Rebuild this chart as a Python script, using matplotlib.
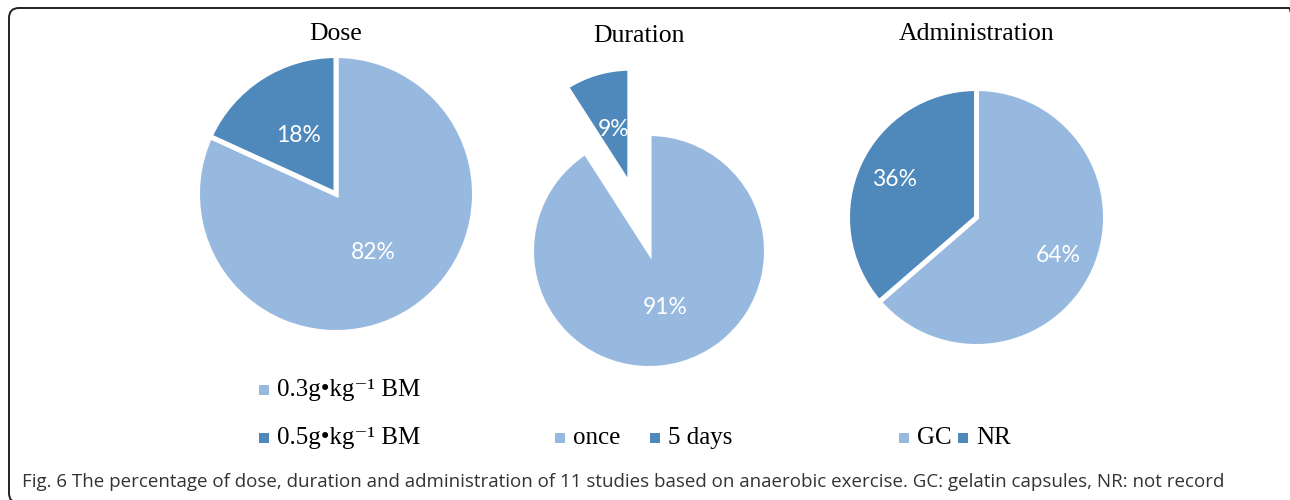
import matplotlib
matplotlib.use("Agg")
import matplotlib.pyplot as plt
from matplotlib.patches import FancyBboxPatch, Rectangle

# Study counts (11 studies based on anaerobic exercise)
dose_labels = ["0.3g\u2022kg\u207b\u00b9 BM", "0.5g\u2022kg\u207b\u00b9 BM"]
dose_counts = [9, 2]
duration_labels = ["once", "5 days"]
duration_counts = [10, 1]
admin_labels = ["GC", "NR"]
admin_counts = [7, 4]
titles = ["Dose", "Duration", "Administration"]
caption = ("Fig. 6 The percentage of dose, duration and administration of 11 studies "
           "based on anaerobic exercise. GC: gelatin capsules, NR: not record")

LIGHT = "#98B9DF"
DARK = "#4F89BC"
COLORS = [LIGHT, DARK]
SERIF = ["Liberation Serif", "DejaVu Serif"]
W, H = 1290, 500

fig = plt.figure(figsize=(W / 100, H / 100), dpi=100)
ax = fig.add_axes([0, 0, 1, 1])


def y(py):
    """Convert a top-down pixel row into the axes' bottom-up coordinate."""
    return H - py


def draw_pie(counts, cx, cy, r, pctdist, explode=None):
    wedges, texts, autotexts = ax.pie(
        counts, colors=COLORS, startangle=90, counterclock=False,
        center=(cx, y(cy)), radius=r, explode=explode,
        autopct="%1.0f%%", pctdistance=pctdist, frame=True,
        wedgeprops=dict(edgecolor="white", linewidth=3.6),
        textprops=dict(color="white", fontsize=16.5, family=["Lato", "DejaVu Sans"],
                       fontweight="normal"))
    return wedges, autotexts


draw_pie(dose_counts, 336, 194, 138.5, 0.5)
# the "5 days" wedge is pulled out from the centre (offset in axes units)
draw_pie(duration_counts, 649, 251, 117.5, 0.5, explode=[0, 68])
draw_pie(admin_counts, 976.5, 217.5, 129, 0.7)

# Pie titles
for t, (tx, ty) in zip(titles, [(336, 34), (639, 36), (977, 34)]):
    ax.text(tx, y(ty), t, ha="center", va="center", fontsize=18.5, family=SERIF,
            color="black")


def legend_item(px, py, label, color):
    ax.add_patch(Rectangle((px - 5, y(py) - 5), 10, 10, color=color, lw=0))
    ax.text(px + 13, y(py), label, ha="left", va="center", fontsize=18,
            family=SERIF, color="black")


legend_item(264, 390, dose_labels[0], LIGHT)
legend_item(264, 438, dose_labels[1], DARK)
legend_item(560, 438, duration_labels[0], LIGHT)
legend_item(655, 438, duration_labels[1], DARK)
legend_item(904, 438, admin_labels[0], LIGHT)
legend_item(963, 438, admin_labels[1], DARK)

ax.text(22, y(482), caption, ha="left", va="center", fontsize=13.5,
        family=["Open Sans", "DejaVu Sans"], color="#333333")

# Rounded frame around the figure panel
frame = FancyBboxPatch((9, y(503)), 1290, 495,
                       boxstyle="round,pad=0,rounding_size=10",
                       fill=False, edgecolor="#222222", linewidth=1.4)
ax.add_patch(frame)

ax.set_xlim(0, W)
ax.set_ylim(0, H)
ax.set_aspect("auto")
ax.axis("off")

fig.savefig("out.png", dpi=100, facecolor="white")
